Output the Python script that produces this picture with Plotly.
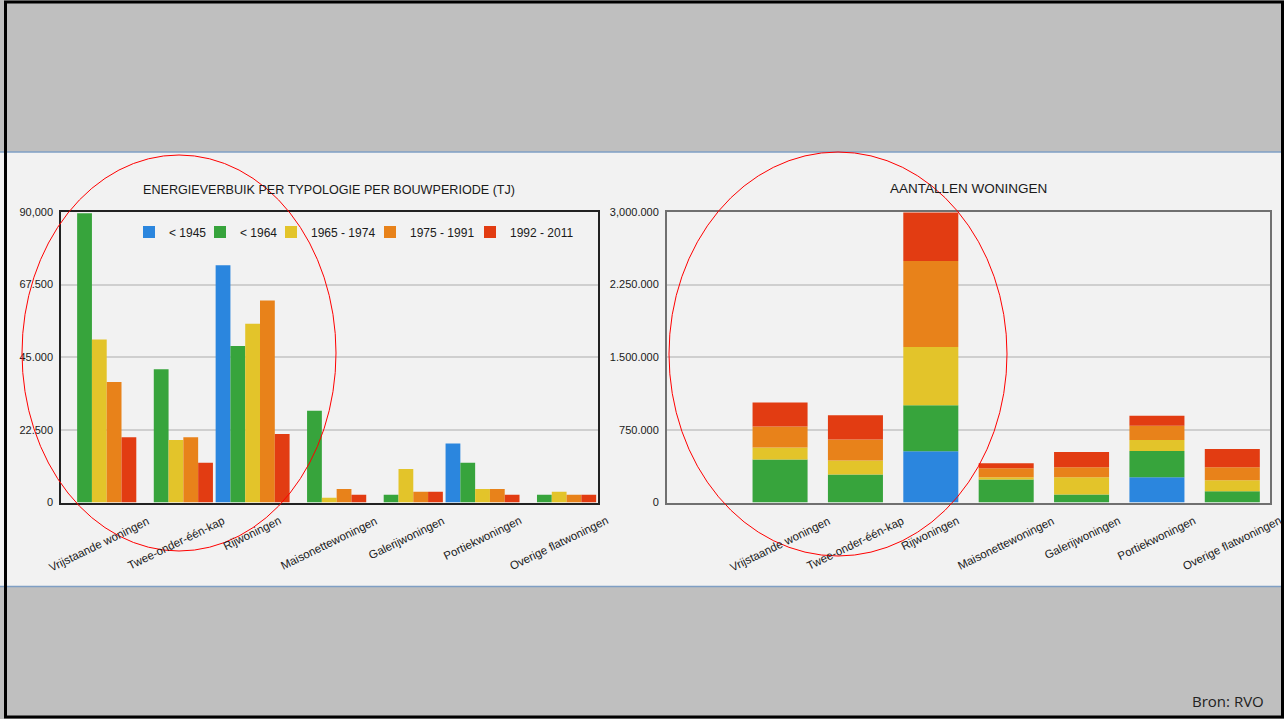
import numpy as np
import plotly.graph_objects as go

# ---------------- data ----------------
categories = ["Vrijstaande woningen", "Twee-onder-één-kap", "Rijwoningen",
              "Maisonettewoningen", "Galerijwoningen", "Portiekwoningen",
              "Overige flatwoningen"]
periods = ["< 1945", "< 1964", "1965 - 1974", "1975 - 1991", "1992 - 2011"]

# Energieverbruik (TJ)
energie_1945 = [0, 0, 73500, 0, 0, 18300, 0]
energie_1964 = [89600, 41300, 48500, 28400, 2400, 12300, 2400]
energie_1974 = [50500, 19400, 55400, 1450, 10400, 4200, 3300]
energie_1991 = [37300, 20200, 62600, 4200, 3300, 4200, 2400]
energie_2011 = [20200, 12300, 21200, 2400, 3300, 2400, 2400]

# Aantallen woningen
woningen_1945 = [0, 0, 530000, 0, 0, 260000, 0]
woningen_1964 = [444000, 290000, 475000, 238000, 83000, 271000, 115000]
woningen_1974 = [124000, 145000, 600000, 22000, 177000, 115000, 114000]
woningen_1991 = [217000, 215000, 890000, 94000, 105000, 146000, 136000]
woningen_2011 = [248000, 250000, 500000, 52000, 156000, 104000, 187000]

left_tickvals = [0, 22500, 45000, 67500, 90000]
left_ticktext = ["0", "22.500", "45.000", "67.500", "90,000"]
right_tickvals = [0, 750000, 1500000, 2250000, 3000000]
right_ticktext = ["0", "750.000", "1.500.000", "2.250.000", "3,000.000"]

title_left = "ENERGIEVERBUIK PER TYPOLOGIE PER BOUWPERIODE (TJ)"
title_right = "AANTALLEN WONINGEN"
source_text = "Bron: RVO"

# ---------------- styling ----------------
colors = ["#2b86de", "#37a43c", "#e3c42a", "#e8821a", "#e23c12"]
legend_px = [129, 200, 271, 370, 470]   # legend entry positions (layout)
W, H = 1284, 719
FONT = "Liberation Sans, Arial, sans-serif"
TXT = "#1a1a1a"

def px_x(p):
    return p / W

def px_y(p):
    return 1 - p / H

energie = [energie_1945, energie_1964, energie_1974, energie_1991, energie_2011]
woningen = [woningen_1945, woningen_1964, woningen_1974, woningen_1991, woningen_2011]
legend_ids = ["legend", "legend2", "legend3", "legend4", "legend5"]

fig = go.Figure()

for i, (name, vals) in enumerate(zip(periods, energie)):
    fig.add_trace(go.Bar(
        x=categories, y=vals, name=name, marker_color=colors[i],
        marker_line_width=0, offsetgroup="g%d" % i,
        xaxis="x", yaxis="y", showlegend=True, legend=legend_ids[i],
    ))

cum = np.zeros(len(categories))
for i, (name, vals) in enumerate(zip(periods, woningen)):
    fig.add_trace(go.Bar(
        x=categories, y=vals, base=cum.copy(), name=name,
        marker_color=colors[i], marker_line_width=0, offsetgroup="stack",
        width=0.73, xaxis="x2", yaxis="y2", showlegend=False,
    ))
    cum = cum + np.array(vals)

ydom = [px_y(502.5), px_y(212)]

fig.update_layout(
    width=W, height=H,
    margin=dict(l=0, r=0, t=0, b=0, pad=0, autoexpand=False),
    paper_bgcolor="#bfbfbf",
    plot_bgcolor="rgba(0,0,0,0)",
    barmode="group", bargap=0.035, bargroupgap=0,
    font=dict(family=FONT, color=TXT, size=11),
    xaxis=dict(domain=[px_x(61), px_x(597.5)], type="category",
               categoryorder="array", categoryarray=categories,
               range=[-0.5, 6.5], showticklabels=False, ticks="",
               showgrid=False, showline=True, mirror=True,
               linecolor="#222222", linewidth=1.5, anchor="y", fixedrange=True),
    yaxis=dict(domain=ydom, range=[0, 90000], tickvals=left_tickvals,
               ticktext=left_ticktext, showgrid=True, gridcolor="#cfcfcf",
               gridwidth=1.5, showline=True, mirror=True, linecolor="#222222",
               linewidth=1.5, zeroline=False, ticks="", anchor="x",
               tickfont=dict(size=11, color=TXT), ticklabelstandoff=4),
    xaxis2=dict(domain=[px_x(667), px_x(1270)], type="category",
                categoryorder="array", categoryarray=categories,
                range=[-1.5, 6.5], showticklabels=False, ticks="",
                showgrid=False, showline=True, mirror=True,
                linecolor="#707070", linewidth=2, anchor="y2"),
    yaxis2=dict(domain=ydom, range=[0, 3000000], tickvals=right_tickvals,
                ticktext=right_ticktext, showgrid=True, gridcolor="#cfcfcf",
                gridwidth=1.5, showline=True, mirror=True, linecolor="#707070",
                linewidth=2, zeroline=False, ticks="", anchor="x2",
                tickfont=dict(size=11, color=TXT), ticklabelstandoff=4),
)

for lid, lx in zip(legend_ids, legend_px):
    fig.update_layout({lid: dict(
        orientation="h", x=px_x(lx), y=px_y(232), xanchor="left",
        yanchor="middle", bgcolor="rgba(0,0,0,0)", borderwidth=0,
        font=dict(size=12, color=TXT), itemwidth=30)})

shapes = [
    dict(type="rect", xref="paper", yref="paper", x0=0, x1=1,
         y0=px_y(586.5), y1=px_y(152), fillcolor="#f2f2f2",
         line=dict(width=0), layer="below"),
    dict(type="line", xref="paper", yref="paper", x0=0, x1=1,
         y0=px_y(152), y1=px_y(152), line=dict(color="#7f9fc4", width=1.5),
         layer="below"),
    dict(type="line", xref="paper", yref="paper", x0=0, x1=1,
         y0=px_y(586.5), y1=px_y(586.5), line=dict(color="#7f9fc4", width=1.5),
         layer="below"),
    dict(type="rect", xref="paper", yref="paper", x0=px_x(5.5), x1=px_x(1282.5),
         y0=px_y(717), y1=px_y(2), line=dict(color="#000000", width=3),
         layer="above"),
    dict(type="circle", xref="paper", yref="paper", x0=px_x(22), x1=px_x(336),
         y0=px_y(551), y1=px_y(155), line=dict(color="#ff0000", width=1),
         layer="above"),
    dict(type="circle", xref="paper", yref="paper", x0=px_x(669), x1=px_x(1007),
         y0=px_y(556), y1=px_y(152), line=dict(color="#ff0000", width=1),
         layer="above"),
]
fig.update_layout(shapes=shapes)

annotations = [
    dict(text=title_left, xref="paper", yref="paper", x=px_x(329), y=px_y(190),
         xanchor="center", yanchor="middle", showarrow=False,
         font=dict(size=12.6, color=TXT)),
    dict(text=title_right, xref="paper", yref="paper", x=px_x(968), y=px_y(189),
         xanchor="center", yanchor="middle", showarrow=False,
         font=dict(size=13.5, color=TXT)),
    dict(text=source_text, xref="paper", yref="paper", x=px_x(1266), y=px_y(701),
         xanchor="right", yanchor="middle", showarrow=False,
         font=dict(size=15, color="#222222", family="Open Sans, sans-serif")),
]
for xr in ["x", "x2"]:
    for c in categories:
        annotations.append(dict(
            text=c, xref=xr, yref="paper", x=c, y=px_y(502.5), yshift=-9,
            xanchor="center", yanchor="top", textangle=-26, showarrow=False,
            font=dict(size=11.5, color=TXT)))
fig.update_layout(annotations=annotations)

fig.write_html(
    "out.html",
    config={"displayModeBar": False},
    post_script=(
        "var de=document.documentElement, b=document.body;"
        "de.style.margin='0'; de.style.padding='0'; de.style.overflow='hidden';"
        "b.style.margin='0'; b.style.padding='0'; b.style.overflow='hidden';"
    ),
)
